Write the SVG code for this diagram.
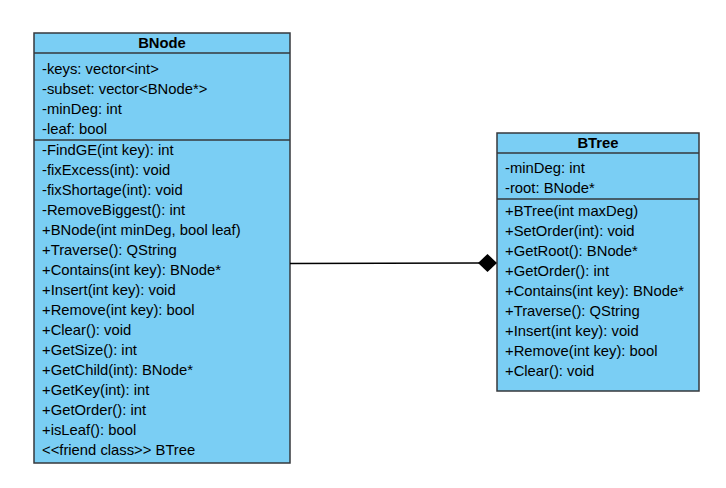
<svg xmlns="http://www.w3.org/2000/svg" width="726" height="488" viewBox="0 0 726 488">
<style>
.box{fill:#7ACEF4;stroke:#36393d;stroke-width:1.5}
.sep{stroke:#36393d;stroke-width:1.5}
.t{font-family:"Liberation Sans",Arial,sans-serif;font-size:14.8px;fill:#000}
.h{font-family:"Liberation Sans",Arial,sans-serif;font-size:14.8px;font-weight:bold;fill:#000;text-anchor:middle}
</style>
<rect width="726" height="488" fill="#fff"/>
<g id="BNode">
<rect class="box" x="34" y="33" width="256" height="430"/>
<line class="sep" x1="34" y1="53" x2="290" y2="53"/>
<line class="sep" x1="34" y1="140" x2="290" y2="140"/>
<text class="h" x="162" y="48">BNode</text>
<text class="t" x="42" y="74">-keys: vector&lt;int&gt;</text>
<text class="t" x="42" y="94">-subset: vector&lt;BNode*&gt;</text>
<text class="t" x="42" y="114">-minDeg: int</text>
<text class="t" x="42" y="134">-leaf: bool</text>
<text class="t" x="42" y="155">-FindGE(int key): int</text>
<text class="t" x="42" y="175">-fixExcess(int): void</text>
<text class="t" x="42" y="195">-fixShortage(int): void</text>
<text class="t" x="42" y="215">-RemoveBiggest(): int</text>
<text class="t" x="42" y="235">+BNode(int minDeg, bool leaf)</text>
<text class="t" x="42" y="255">+Traverse(): QString</text>
<text class="t" x="42" y="275">+Contains(int key): BNode*</text>
<text class="t" x="42" y="295">+Insert(int key): void</text>
<text class="t" x="42" y="315">+Remove(int key): bool</text>
<text class="t" x="42" y="335">+Clear(): void</text>
<text class="t" x="42" y="355">+GetSize(): int</text>
<text class="t" x="42" y="375">+GetChild(int): BNode*</text>
<text class="t" x="42" y="395">+GetKey(int): int</text>
<text class="t" x="42" y="415">+GetOrder(): int</text>
<text class="t" x="42" y="435">+isLeaf(): bool</text>
<text class="t" x="42" y="455">&lt;&lt;friend class&gt;&gt; BTree</text>
</g>
<g id="BTree">
<rect class="box" x="497" y="133" width="202" height="258"/>
<line class="sep" x1="497" y1="153" x2="699" y2="153"/>
<line class="sep" x1="497" y1="199" x2="699" y2="199"/>
<text class="h" x="598" y="148">BTree</text>
<text class="t" x="505" y="173">-minDeg: int</text>
<text class="t" x="505" y="193">-root: BNode*</text>
<text class="t" x="505" y="216">+BTree(int maxDeg)</text>
<text class="t" x="505" y="236">+SetOrder(int): void</text>
<text class="t" x="505" y="256">+GetRoot(): BNode*</text>
<text class="t" x="505" y="276">+GetOrder(): int</text>
<text class="t" x="505" y="296">+Contains(int key): BNode*</text>
<text class="t" x="505" y="316">+Traverse(): QString</text>
<text class="t" x="505" y="336">+Insert(int key): void</text>
<text class="t" x="505" y="356">+Remove(int key): bool</text>
<text class="t" x="505" y="376">+Clear(): void</text>
</g>
<g id="connectors">
<line x1="290" y1="263.5" x2="479" y2="263" stroke="#000" stroke-width="1.3"/>
<path d="M478 263 L487.5 254 L497 263 L487.5 272 Z" fill="#000"/>
</g>
</svg>
